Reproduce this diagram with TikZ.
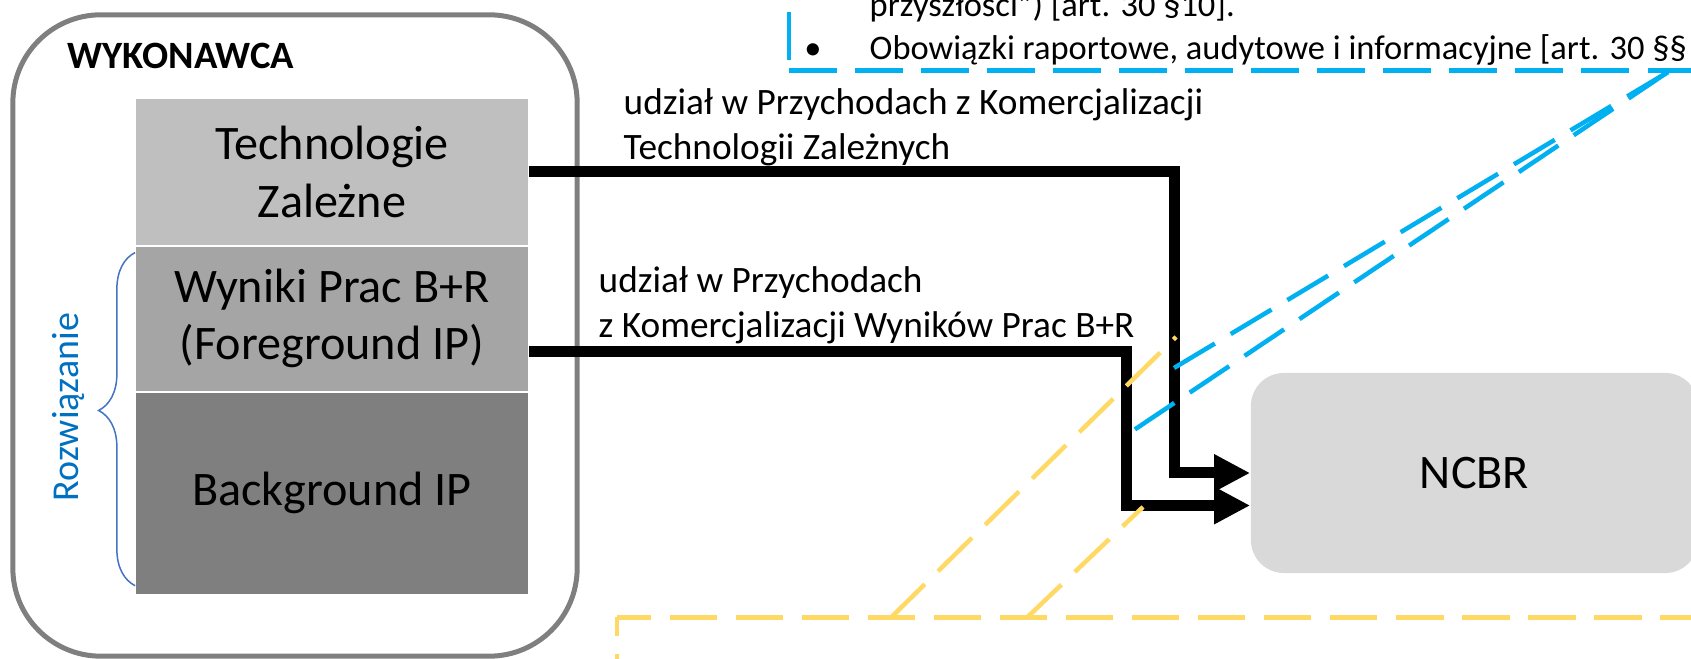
\documentclass[tikz,border=0pt]{standalone}
\usepackage{fontspec}
\setmainfont{Carlito}
\usetikzlibrary{positioning,calc,arrows.meta,decorations.pathreplacing}

\definecolor{framegray}{HTML}{7F7F7F}
\definecolor{techgray}{HTML}{BFBFBF}
\definecolor{fggray}{HTML}{A5A5A5}
\definecolor{bggray}{HTML}{7F7F7F}
\definecolor{ncbrgray}{HTML}{D9D9D9}
\definecolor{calloutblue}{HTML}{00B0F0}
\definecolor{calloutyellow}{HTML}{FFD966}
\definecolor{bracecolor}{HTML}{4472C4}
\definecolor{labelblue}{HTML}{0070C0}

\begin{document}
\begin{tikzpicture}[x=0.01cm, y=-0.01cm,
    big/.style={font=\fontsize{13.7}{16.4}\selectfont},
    small/.style={font=\fontsize{10.6}{12.8}\selectfont, inner sep=0pt},
    layer/.style={big, draw=white, line width=0.01cm, minimum width=3.925cm, inner sep=0pt, align=center},
    flow/.style={line width=0.11cm, -{Triangle[length=0.36cm, width=0.35cm]}},
    bluecall/.style={draw=calloutblue, line width=0.045cm, dash pattern=on 0.475cm off 0.185cm},
    yellowcall/.style={bluecall, draw=calloutyellow}]
    \useasboundingbox (0,0) rectangle (1691,659);
    \clip (0,0) rectangle (1691,659);

    % wykonawca
    \node[draw=framegray, line width=0.05cm, rounded corners=0.88cm, minimum width=5.64cm, minimum height=6.41cm] (wyk) at (295,335.5) {};
    \node[small, font=\fontsize{11}{13}\selectfont\bfseries, anchor=base west] (wykname) at (67,69) {WYKONAWCA};

    \node[layer, fill=techgray, minimum height=1.46cm] (tech) at (332,172) {Technologie\\Zależne};
    \node[layer, fill=fggray, minimum height=1.45cm, below=0pt of tech] (wyn) {Wyniki Prac B+R\\(Foreground IP)};
    \node[layer, fill=bggray, minimum height=2.02cm, below=0pt of wyn] (bg) {Background IP};

    \draw[bracecolor, line width=0.015cm, decorate, decoration={brace, amplitude=0.365cm, aspect=0.526}]
        ($(bg.south west)+(0,-9)$) -- ($(wyn.north west)+(0,7)$);
    \node[small, font=\fontsize{10.8}{13}\selectfont, rotate=90, anchor=base, text=labelblue] (rozw) at (78.5,407) {Rozwiązanie};

    % ncbr
    \node[big, fill=ncbrgray, rounded corners=0.33cm, minimum width=4.47cm, minimum height=2cm] (ncbr) at (1474.5,473) {NCBR};

    \draw[flow] (tech.east) -- ++(646,0) |- (ncbr.west);
    \draw[flow] ($(wyn.east)+(0,33)$) -- ++(598,0) |- ($(ncbr.west)+(0,32.5)$);

    \node[small, anchor=base west, align=left] (lab1) at (623,160) {udział w Przychodach z Komercjalizacji\\Technologii Zależnych};
    \node[small, anchor=base west, align=left] (lab2) at (598,338) {udział w Przychodach\\z Komercjalizacji Wyników Prac B+R};

    % callouts
    \draw[bluecall, dash phase=0.555cm] (789,70.5) -- (789,-60);
    \draw[bluecall] (789,70.5) -- (1760,70.5);
    \node[small, font=\fontsize{9.8}{12.5}\selectfont, anchor=base west] (call1) at (869,17) {przyszłości”) [art. 30 §10].};
    \node[small, font=\fontsize{9.8}{12.5}\selectfont, anchor=base] (bullet) at (813,60) {•};
    \node[small, font=\fontsize{9.8}{12.5}\selectfont, anchor=base west] (call2) at (869,60) {Obowiązki raportowe, audytowe i informacyjne [art. 30 §§};

    \coordinate (bluefrom) at (1668,72);
    \coordinate (bluetoA) at (1174,368);
    \coordinate (bluetoB) at (1134,430);
    \draw[bluecall] (bluefrom) -- (bluetoA);
    \draw[bluecall] (bluefrom) -- (bluetoB);

    \draw[yellowcall, dash phase=0.135cm] (617,617.5) -- (1760,617.5);
    \draw[yellowcall, dash phase=0.295cm] (617,617.5) -- (617,760);
    \coordinate (yelfromA) at (891,617.5);
    \coordinate (yelfromB) at (1027,617.5);
    \coordinate (yeltoA) at (1176,337);
    \coordinate (yeltoB) at (1143,507);
    \draw[yellowcall] (yelfromA) -- (yeltoA);
    \draw[yellowcall] (yelfromB) -- (yeltoB);
\end{tikzpicture}
\end{document}
